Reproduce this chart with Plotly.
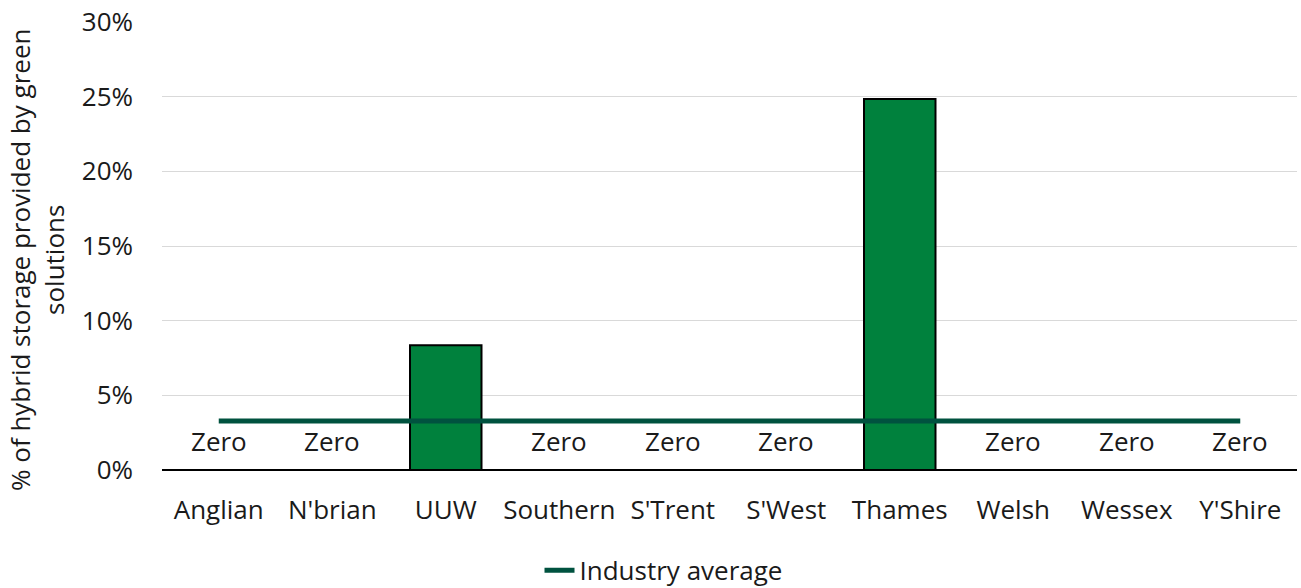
import plotly.graph_objects as go

categories = ["Anglian", "N'brian", "UUW", "Southern", "S'Trent", "S'West",
              "Thames", "Welsh", "Wessex", "Y'Shire"]
green_share = [0.0, 0.0, 8.35, 0.0, 0.0, 0.0, 24.85, 0.0, 0.0, 0.0]
industry_average = 3.28
y_ticks = [0, 5, 10, 15, 20, 25, 30]
y_tick_labels = ["0%", "5%", "10%", "15%", "20%", "25%", "30%"]
y_title = "% of hybrid storage provided by green<br>solutions"

FONT = "Open Sans, Calibri, Carlito, sans-serif"
FS = 26
TXT = "#1a1a1a"

fig = go.Figure()
fig.add_trace(go.Bar(
    x=categories, y=green_share,
    marker=dict(color="#00813D", line=dict(color="black", width=2)),
    showlegend=False, hoverinfo="x+y",
))
fig.add_trace(go.Scatter(
    x=categories, y=[industry_average] * len(categories),
    mode="lines", name="Industry average",
    line=dict(color="#00523F", width=5),
))

annotations = []
for c, v in zip(categories, green_share):
    if v == 0:
        annotations.append(dict(x=c, y=v, xref="x", yref="y", text="Zero",
                                showarrow=False, yshift=29,
                                font=dict(family=FONT, size=FS, color=TXT)))
annotations.append(dict(x=0, y=0.5, xref="paper", yref="paper", text=y_title,
                        textangle=-90, showarrow=False, xanchor="center",
                        yanchor="middle", xshift=-125, yshift=-14,
                        font=dict(family=FONT, size=FS, color=TXT)))

fig.update_layout(
    width=1301, height=588,
    margin=dict(l=162, r=4, t=22, b=118),
    plot_bgcolor="white", paper_bgcolor="white",
    bargap=0.37,
    font=dict(family=FONT, size=FS, color=TXT),
    annotations=annotations,
    legend=dict(orientation="h", xref="container", yref="container",
                x=0.51, xanchor="center", y=0.03, yanchor="middle",
                font=dict(family=FONT, size=FS, color=TXT)),
    xaxis=dict(showgrid=False, ticks="", ticklabelstandoff=22,
               showline=False, zeroline=False),
    yaxis=dict(range=[0, 30], tickvals=y_ticks, ticktext=y_tick_labels,
               showgrid=True, gridcolor="#D9D9D9", gridwidth=1,
               zeroline=True, zerolinecolor="black", zerolinewidth=2,
               ticklabelstandoff=28, showline=False, automargin=False),
)

fig.write_html("out.html")
